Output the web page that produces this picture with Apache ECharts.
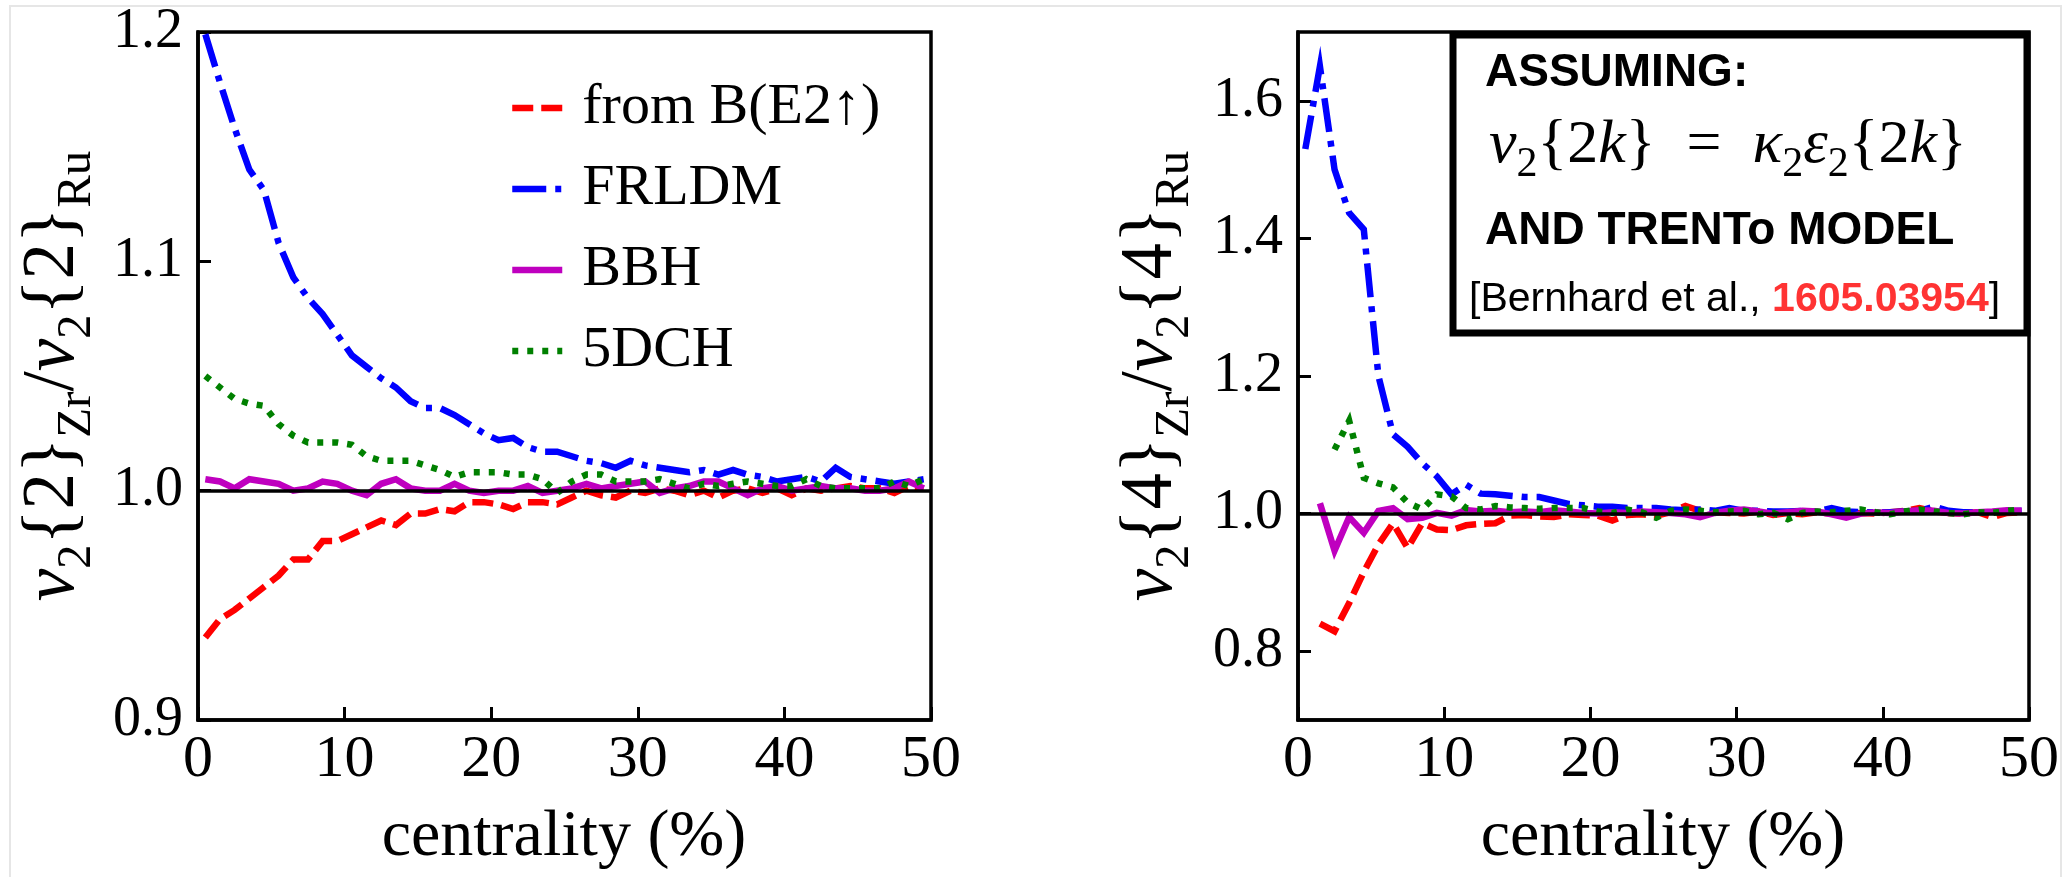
<!DOCTYPE html>
<html>
<head>
<meta charset="utf-8">
<script src="https://cdn.jsdelivr.net/npm/echarts@6/dist/echarts.min.js"></script>
<style>
html,body{margin:0;padding:0;background:#fff;}
#chart{width:2071px;height:877px;}
</style>
</head>
<body>
<div id="chart"></div>
<script>
// ---- data ----
const centrality = [0.5,1.5,2.5,3.5,4.5,5.5,6.5,7.5,8.5,9.5,10.5,11.5,12.5,13.5,14.5,15.5,16.5,17.5,18.5,19.5,20.5,21.5,22.5,23.5,24.5,25.5,26.5,27.5,28.5,29.5,30.5,31.5,32.5,33.5,34.5,35.5,36.5,37.5,38.5,39.5,40.5,41.5,42.5,43.5,44.5,45.5,46.5,47.5,48.5,49.5];
const seriesNames = ['from B(E2\u2191)', 'FRLDM', 'BBH', '5DCH'];
const xTicks = [0, 10, 20, 30, 40, 50];
const leftYTicks = [0.9, 1.0, 1.1, 1.2];
const rightYTicks = [0.8, 1.0, 1.2, 1.4, 1.6];

// left panel: v2{2}_Zr / v2{2}_Ru
const left_BE2 = [0.936,0.944,0.948,0.953,0.958,0.963,0.970,0.970,0.978,0.978,0.981,0.984,0.987,0.985,0.990,0.990,0.992,0.991,0.995,0.995,0.994,0.992,0.995,0.995,0.994,0.997,1.000,0.998,0.997,1.000,0.999,1.001,1.000,0.998,1.000,0.997,1.000,1.001,0.999,1.001,0.998,1.001,1.000,1.001,1.002,1.001,1.001,0.999,1.002,1.001];
const left_FRLDM = [1.199,1.178,1.158,1.140,1.131,1.108,1.093,1.084,1.077,1.068,1.059,1.054,1.049,1.045,1.039,1.036,1.036,1.033,1.029,1.025,1.022,1.023,1.019,1.017,1.017,1.015,1.013,1.012,1.010,1.013,1.011,1.010,1.009,1.008,1.009,1.007,1.009,1.007,1.006,1.004,1.005,1.006,1.004,1.010,1.006,1.005,1.004,1.003,1.004,1.005];
const left_BBH = [1.005,1.004,1.001,1.005,1.004,1.003,1.000,1.001,1.004,1.003,1.000,0.998,1.003,1.005,1.001,1.000,1.000,1.003,1.000,0.999,1.000,1.000,1.002,0.999,1.000,1.001,1.003,1.001,1.002,1.003,1.004,0.999,1.001,1.002,1.004,1.004,1.001,0.998,1.001,1.002,1.000,1.001,1.002,1.001,1.001,1.000,1.000,1.001,1.004,1.001];
const left_5DCH = [1.050,1.045,1.040,1.038,1.037,1.029,1.024,1.021,1.021,1.021,1.020,1.015,1.013,1.013,1.013,1.011,1.009,1.006,1.008,1.008,1.008,1.007,1.007,1.005,0.999,1.004,1.007,1.007,1.004,1.004,1.004,1.005,1.003,1.001,1.003,1.002,1.003,1.004,1.003,1.002,1.002,1.005,1.002,1.001,1.001,1.001,1.001,1.004,1.002,1.005];

// right panel: v2{4}_Zr / v2{4}_Ru
const right_BE2 = [null,0.840,0.829,0.870,0.915,0.955,0.986,0.950,0.986,0.977,0.976,0.983,0.985,0.986,0.997,0.998,0.996,0.995,0.999,0.998,0.997,0.990,0.998,0.999,0.997,1.002,1.011,1.004,1.002,1.001,1.000,1.003,0.998,1.001,0.999,1.002,1.000,0.999,1.001,1.000,1.002,1.004,1.008,1.003,1.001,1.000,1.002,0.995,1.001,1.002];
const right_FRLDM = [1.530,1.650,1.500,1.437,1.413,1.200,1.115,1.097,1.073,1.054,1.028,1.042,1.029,1.028,1.026,1.024,1.024,1.019,1.014,1.012,1.010,1.010,1.008,1.008,1.008,1.006,1.005,1.006,1.004,1.008,1.004,1.004,1.003,1.003,1.004,1.003,1.008,1.003,1.002,1.002,1.002,1.003,1.004,1.010,1.004,1.002,1.002,1.002,1.003,1.004];
const right_BBH = [null,1.015,0.946,0.995,0.972,1.004,1.008,0.992,0.994,1.001,0.997,1.005,1.003,1.004,1.002,1.003,1.002,1.005,1.003,1.001,1.000,1.002,1.001,1.003,1.002,1.001,0.999,0.995,1.001,1.004,1.006,1.003,1.000,1.002,1.004,1.003,0.999,0.994,1.000,1.002,1.001,1.003,1.005,1.004,1.001,1.000,1.002,1.003,1.005,1.004];
const right_5DCH = [null,null,1.093,1.135,1.052,1.044,1.038,1.016,1.006,1.028,1.025,1.008,1.006,1.011,1.009,1.008,1.007,1.008,1.008,1.008,1.003,1.001,1.006,1.002,0.994,1.004,1.006,1.004,1.002,1.003,1.004,0.999,1.001,0.992,1.001,1.003,1.002,1.004,1.006,1.002,0.999,1.003,1.006,1.003,1.001,0.999,1.002,1.001,1.004,1.006];

// ---- styles ----
const SERIF = 'Liberation Serif';
const SANS = 'Liberation Sans';
const LW = 6.5;
const styles = [
  {color: '#ff0000', type: [21, 8]},
  {color: '#0000ff', type: [34, 9, 6, 9]},
  {color: '#bf00bf', type: 'solid'},
  {color: '#008000', type: [6, 9]}
];

function pairs(arr) { return centrality.map((c, i) => [c, arr[i]]); }

function makeSeries(arrs, gi) {
  return arrs.map((arr, k) => {
    const s = {
      name: seriesNames[k],
      type: 'line',
      xAxisIndex: gi, yAxisIndex: gi,
      data: pairs(arr),
      showSymbol: false,
      symbol: 'none',
      connectNulls: false,
      clip: true,
      lineStyle: {color: styles[k].color, width: LW, type: styles[k].type, cap: 'butt', join: 'miter'},
      itemStyle: {color: styles[k].color},
      z: 3
    };
    if (k === 0) {
      s.markLine = {
        silent: true, symbol: ['none', 'none'], label: {show: false},
        lineStyle: {color: '#000', width: 3.5, type: 'solid'},
        data: [{yAxis: 1}],
        animation: false
      };
    }
    return s;
  });
}

const chart = echarts.init(document.getElementById('chart'), null, {renderer: 'canvas'});

function xAxisCfg(gi) {
  return {
    type: 'value', gridIndex: gi, min: 0, max: 50, interval: 10,
    axisLine: {show: true, lineStyle: {color: '#000', width: 3.5}},
    axisTick: {show: true, inside: true, length: 13, lineStyle: {color: '#000', width: 3}, customValues: xTicks},
    axisLabel: {show: true, margin: 10, fontFamily: SERIF, fontSize: 60, color: '#000', customValues: xTicks},
    splitLine: {show: false}
  };
}

const titleRich = {
  it: {fontFamily: SERIF, fontStyle: 'italic', fontSize: 73, lineHeight: 96},
  sub: {fontFamily: SERIF, fontSize: 49, lineHeight: 58, verticalAlign: 'bottom'}
};

const option = {
  animation: false,
  backgroundColor: '#fff',
  grid: [
    {left: 198, top: 32, width: 733, height: 688, show: true, borderColor: '#000', borderWidth: 3.5, backgroundColor: 'transparent'},
    {left: 1298, top: 32, width: 731, height: 688, show: true, borderColor: '#000', borderWidth: 3.5, backgroundColor: 'transparent'}
  ],
  xAxis: [xAxisCfg(0), xAxisCfg(1)],
  yAxis: [
    {
      type: 'value', gridIndex: 0, min: 0.9, max: 1.2, interval: 0.1,
      axisLine: {show: true, lineStyle: {color: '#000', width: 3.5}},
      axisTick: {show: true, inside: true, length: 13, lineStyle: {color: '#000', width: 3}, customValues: leftYTicks},
      axisLabel: {show: true, margin: 15, fontFamily: SERIF, fontSize: 56, color: '#000', customValues: leftYTicks,
        formatter: v => Number(v).toFixed(1)},
      splitLine: {show: false}
    },
    {
      type: 'value', gridIndex: 1, min: 0.7, max: 1.7,
      axisLine: {show: true, lineStyle: {color: '#000', width: 3.5}},
      axisTick: {show: true, inside: true, length: 13, lineStyle: {color: '#000', width: 3}, customValues: rightYTicks},
      axisLabel: {show: true, margin: 15, fontFamily: SERIF, fontSize: 56, color: '#000', customValues: rightYTicks,
        formatter: v => Number(v).toFixed(1)},
      splitLine: {show: false}
    }
  ],
  legend: {
    show: true,
    data: seriesNames,
    orient: 'vertical',
    left: 509, top: 78,
    padding: 0,
    itemWidth: 50, itemHeight: 14, itemGap: 21,
    selectedMode: false,
    itemStyle: {color: 'rgba(0,0,0,0)', borderWidth: 0, opacity: 0},
    lineStyle: {width: LW},
    textStyle: {fontFamily: SERIF, fontSize: 58, color: '#000', lineHeight: 60, padding: [0, 0, 0, 15]}
  },
  series: [].concat(
    makeSeries([left_BE2, left_FRLDM, left_BBH, left_5DCH], 0),
    makeSeries([right_BE2, right_FRLDM, right_BBH, right_5DCH], 1)
  ),
  graphic: {
    elements: [
      {type: 'rect', z: 0, silent: true, shape: {x: 10, y: 6, width: 2051, height: 900},
        style: {fill: 'none', stroke: '#e6e6e6', lineWidth: 2}},
      // y axis titles
      {type: 'text', x: 54, y: 376, rotation: Math.PI / 2, z: 10, silent: true,
        style: {
          text: '{it|v}{sub|2}{2}{sub|Zr}/{it|v}{sub|2}{2}{sub|Ru}',
          x: 0, y: 0, align: 'center', verticalAlign: 'middle',
          fontFamily: SERIF, fontSize: 73, lineHeight: 96, fill: '#000',
          rich: titleRich
        }},
      {type: 'text', x: 1152, y: 376, rotation: Math.PI / 2, z: 10, silent: true,
        style: {
          text: '{it|v}{sub|2}{4}{sub|Zr}/{it|v}{sub|2}{4}{sub|Ru}',
          x: 0, y: 0, align: 'center', verticalAlign: 'middle',
          fontFamily: SERIF, fontSize: 73, lineHeight: 96, fill: '#000',
          rich: titleRich
        }},
      // x axis titles
      {type: 'text', x: 564, y: 838, z: 10, silent: true,
        style: {text: 'centrality (%)', align: 'center', verticalAlign: 'middle', fontFamily: SERIF, fontSize: 66, fill: '#000'}},
      {type: 'text', x: 1663, y: 838, z: 10, silent: true,
        style: {text: 'centrality (%)', align: 'center', verticalAlign: 'middle', fontFamily: SERIF, fontSize: 66, fill: '#000'}},
      // annotation box
      {type: 'rect', z: 100, silent: true, shape: {x: 1453, y: 35, width: 574, height: 298},
        style: {fill: '#fff', stroke: '#000', lineWidth: 7}},
      {type: 'text', z: 101, silent: true, x: 1485, y: 73,
        style: {text: 'ASSUMING:', align: 'left', verticalAlign: 'middle', fontFamily: SANS, fontWeight: 'bold', fontSize: 46, fill: '#000'}},
      {type: 'text', z: 101, silent: true, x: 1489, y: 146,
        style: {
          text: '{it|v}{sub|2}{2{it|k}}  =  {it|\u03ba}{sub|2}{it|\u03b5}{sub|2}{2{it|k}}',
          align: 'left', verticalAlign: 'middle',
          fontFamily: SERIF, fontSize: 62, lineHeight: 80, fill: '#000',
          rich: {
            it: {fontFamily: SERIF, fontStyle: 'italic', fontSize: 62, lineHeight: 80},
            sub: {fontFamily: SERIF, fontSize: 42, lineHeight: 48, verticalAlign: 'bottom'}
          }
        }},
      {type: 'text', z: 101, silent: true, x: 1485, y: 231,
        style: {text: 'AND TRENTo MODEL', align: 'left', verticalAlign: 'middle', fontFamily: SANS, fontWeight: 'bold', fontSize: 46, fill: '#000'}},
      {type: 'text', z: 101, silent: true, x: 1469, y: 300,
        style: {
          text: '[Bernhard et al., {red|1605.03954}]',
          align: 'left', verticalAlign: 'middle',
          fontFamily: SANS, fontSize: 41, fill: '#000',
          rich: {red: {fontFamily: SANS, fontSize: 41, fontWeight: 'bold', fill: '#ff3333', color: '#ff3333'}}
        }}
    ]
  }
};

chart.setOption(option);
</script>
</body>
</html>
